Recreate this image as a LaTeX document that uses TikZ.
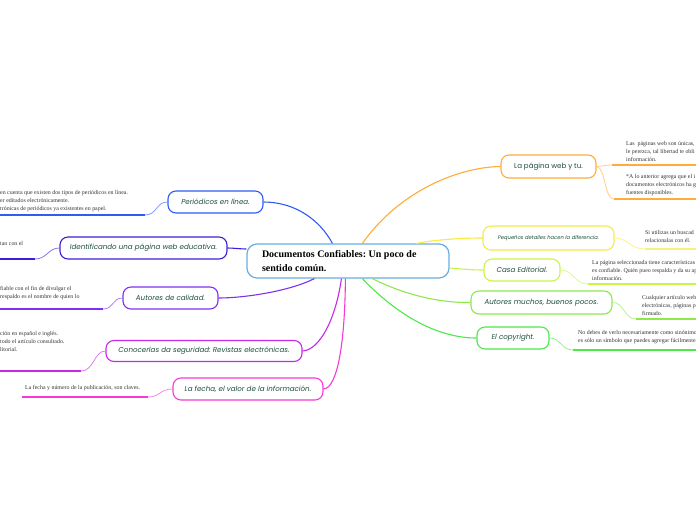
\documentclass[tikz,border=0pt]{standalone}
\usepackage{fontspec}
\setmainfont{Liberation Serif}
\newfontfamily\popfont{Poppins}
\definecolor{txtgreen}{HTML}{1D4F3C}
\definecolor{cblue}{HTML}{2F5CF5}
\definecolor{cindigo}{HTML}{3A1FD8}
\definecolor{cviolet}{HTML}{8030F0}
\definecolor{cpurple}{HTML}{C62AE8}
\definecolor{cpink}{HTML}{F53AD6}
\definecolor{corange}{HTML}{FFAC38}
\definecolor{cyellow}{HTML}{F5EC45}
\definecolor{clime}{HTML}{C8F54A}
\definecolor{cgreenA}{HTML}{8EE84A}
\definecolor{cgreenB}{HTML}{4FE84A}
\definecolor{ccentral}{HTML}{6AAEE0}
\tikzset{
  branch/.style={draw=#1, fill=white, rounded corners=8pt, line width=1.1pt,
    text=txtgreen, font=\popfont\itshape\fontsize{7.1}{8}\selectfont,
    minimum height=22pt, inner xsep=2pt, inner ysep=0pt},
  conn/.style={draw=#1, line width=1.1pt},
  subconn/.style={draw=#1!60, line width=0.8pt},
  uline/.style={draw=#1, line width=1.8pt},
  leaf/.style={anchor=west, inner sep=0pt, align=flush left, text=black!80,
    font=\fontsize{5.9}{8}\selectfont},
}
\frenchspacing
\begin{document}
\begin{tikzpicture}[x=1pt,y=-1pt]
\fill[white] (0,0) rectangle (696,520);
\useasboundingbox (0,0) rectangle (696,520);

% central node
\node[draw=ccentral, fill=white, rounded corners=10pt, line width=1.2pt,
  minimum width=202pt, minimum height=34pt, text width=172pt, align=flush left,
  font=\bfseries\fontsize{10}{13.5}\selectfont, inner sep=0pt] (c) at (348,261)
  {Documentos Confiables: Un poco de\\sentido común.};

% branch nodes (left)
\node[branch=cblue, minimum width=95pt] (p1) at (215.5,202) {Periódicos en línea.};
\node[branch=cindigo, minimum width=167pt] (p2) at (143.5,248) {Identificando una página web educativa.};
\node[branch=cviolet, minimum width=95pt] (p3) at (170.5,298) {Autores de calidad.};
\node[branch=cpurple, minimum width=196pt, minimum height=21pt] (p4) at (204,351) {Conocerlas da seguridad: Revistas electrónicas.};
\node[branch=cpink, minimum width=150pt] (p5) at (248,389) {La fecha, el valor de la información.};

% branch nodes (right)
\node[branch=corange, minimum width=95pt, minimum height=23pt, font=\popfont\fontsize{7.1}{8}\selectfont] (r1) at (548.5,166.5) {La página web y tu.};
\node[branch=cyellow, minimum width=131pt, minimum height=24pt, font=\popfont\itshape\fontsize{5.2}{6}\selectfont] (r2) at (548.5,238) {Pequeños detalles hacen la diferencia.};
\node[branch=clime, minimum width=76pt] (r3) at (522,270) {Casa Editorial.};
\node[branch=cgreenA, minimum width=141pt, minimum height=23pt] (r4) at (541.5,302.5) {Autores muchos, buenos pocos.};
\node[branch=cgreenB, minimum width=72pt] (r5) at (513,338) {El copyright.};

% main connectors
\draw[conn=cblue] ([xshift=86pt]c.north west) .. controls (320,220) and (295,202) .. (p1.east);
\draw[conn=cindigo] ([yshift=12pt]c.west) .. controls (240,249) and (234,248) .. (p2.east);
\draw[conn=cviolet] ([xshift=68pt]c.south west) .. controls (290,291) and (245,298) .. (p3.east);
\draw[conn=cpurple] ([xshift=95pt]c.south west) .. controls (336,318) and (320,350) .. (p4.east);
\draw[conn=cpink] ([xshift=99pt]c.south west) .. controls (345,340) and (338,388) .. (p5.east);
\draw[conn=corange] ([xshift=116pt]c.north west) .. controls (400,190) and (460,167) .. (r1.west);
\draw[conn=cyellow] ([xshift=170pt]c.north west) .. controls (440,239) and (465,238) .. (r2.west);
\draw[conn=clime] ([yshift=-7pt]c.east) .. controls (462,269) and (472,270) .. (r3.west);
\draw[conn=cgreenA] ([xshift=126pt]c.south west) .. controls (405,295) and (440,303) .. (r4.west);
\draw[conn=cgreenB] ([xshift=116pt]c.south west) .. controls (400,318) and (440,338) .. (r5.west);

% leaves left
\coordinate (u1a) at (145,215); \coordinate (u1b) at (0,215);
\draw[subconn=cblue] (p1.west) .. controls (156,202) and (157,215) .. (u1a);
\draw[uline=cblue] (u1a) -- (u1b);
\node[leaf] (t1) at (0,201) {en cuenta que existen dos tipos de periódicos en línea.\\er editados electrónicamente.\\trónicas de periódicos ya existentes en papel.};

\coordinate (u2a) at (35,259); \coordinate (u2b) at (0,259);
\draw[subconn=cindigo] (p2.west) .. controls (48,248) and (47,259) .. (u2a);
\draw[uline=cindigo] (u2a) -- (u2b);
\node[leaf] (t2) at (0,243) {tan con el};

\coordinate (u3a) at (103,309); \coordinate (u3b) at (0,309);
\draw[subconn=cviolet] (p3.west) .. controls (112,298) and (114,309) .. (u3a);
\draw[uline=cviolet] (u3a) -- (u3b);
\node[leaf] (t3) at (0,293) {fiable con el fin de divulgar el\\ respaldo es el nombre de quien lo};

\coordinate (u4a) at (81,371); \coordinate (u4b) at (0,371);
\draw[subconn=cpurple] (p4.west) .. controls (94,351) and (94,371) .. (u4a);
\draw[uline=cpurple] (u4a) -- (u4b);
\node[leaf] (t4) at (0,341) {ción en español e inglés.\\todo el artículo consultado.\\litorial.};

\coordinate (u5a) at (148,397); \coordinate (u5b) at (22,397);
\draw[subconn=cpink] (p5.west) .. controls (160,389) and (160,397) .. (u5a);
\draw[uline=cpink] (u5a) -- (u5b);
\node[leaf] (t5) at (25,388) {La fecha y número de la publicación, son claves.};

% leaves right
\coordinate (v1a) at (612,165); \coordinate (v1b) at (696,165);
\coordinate (v2a) at (614,199); \coordinate (v2b) at (696,199);
\draw[subconn=corange] (r1.east) .. controls (604,166) and (606,165) .. (v1a);
\draw[subconn=corange] (r1.east) .. controls (606,168) and (604,199) .. (v2a);
\draw[uline=corange] (v1a) -- (v1b);
\draw[uline=corange] (v2a) -- (v2b);
\node[leaf] (s1) at (626,151) {Las \ páginas web son únicas,\\le perezca, tal libertad te obli\\información.};
\node[leaf] (s2) at (626,185) {*A lo anterior agrega que el i\\documentos electrónicos ha g\\fuentes disponibles.};

\coordinate (v3a) at (645,249); \coordinate (v3b) at (696,249);
\draw[subconn=cyellow] (r2.east) .. controls (628,238) and (630,249) .. (v3a);
\draw[uline=cyellow!70] (v3a) -- (v3b);
\node[leaf] (s3) at (645,236) {Si utilizas un buscad\\relacionalas con él.};

\coordinate (v4a) at (588,284); \coordinate (v4b) at (696,284);
\draw[subconn=clime] (r3.east) .. controls (574,270) and (574,284) .. (v4a);
\draw[uline=clime] (v4a) -- (v4b);
\node[leaf] (s4) at (592,270) {La página seleccionada tiene características\\es confiable. Quién pueo respalda y da su ap\\información.};

\coordinate (v5a) at (636,319); \coordinate (v5b) at (696,319);
\draw[subconn=cgreenA] (r4.east) .. controls (624,302) and (624,319) .. (v5a);
\draw[uline=cgreenA] (v5a) -- (v5b);
\node[leaf] (s5) at (642,305) {Cualquier artículo web\\electrónicas, páginas p\\firmado.};

\coordinate (v6a) at (573,350); \coordinate (v6b) at (696,350);
\draw[subconn=cgreenB] (r5.east) .. controls (561,338) and (561,350) .. (v6a);
\draw[uline=cgreenB] (v6a) -- (v6b);
\node[leaf] (s6) at (578,337) {No debes de verlo necesariamente como sinónimo\\es sólo un símbolo que puedes agregar fácilmente};
\end{tikzpicture}
\end{document}
